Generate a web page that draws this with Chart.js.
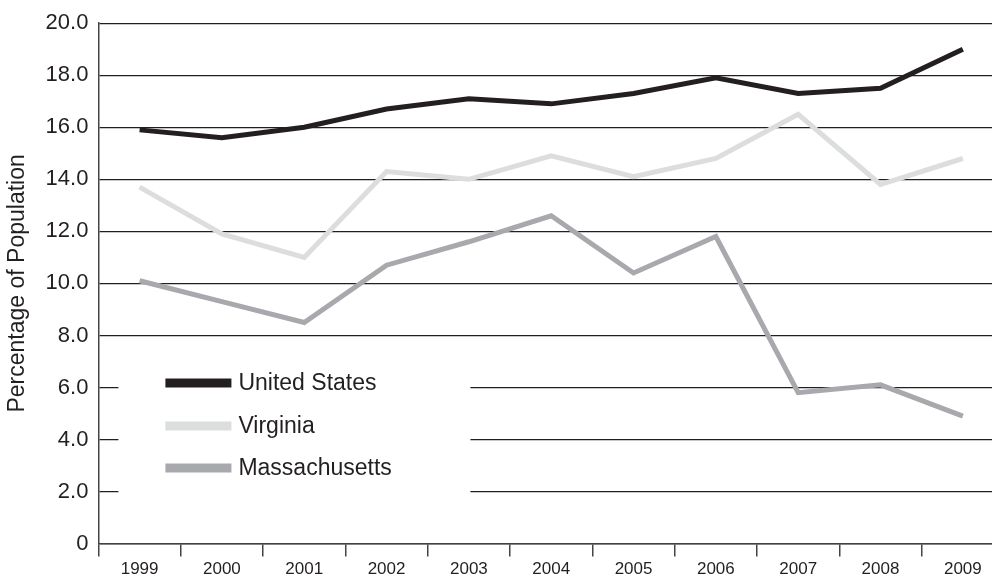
<!DOCTYPE html>
<html lang="en">
    <head>
        <meta charset="UTF-8" />
        <title>Percentage of Population</title>
        <script src="https://cdn.jsdelivr.net/npm/chart.js"></script>
        <style>
            html, body { margin: 0; padding: 0; overflow: hidden; background: #fff; }
            #wrap { width: 1004px; height: 583px; position: relative; }
        </style>
    </head>
    <body>
        <div id="wrap"><canvas id="myChart"></canvas></div>

        <script>
            const years = ["1999", "2000", "2001", "2002", "2003", "2004", "2005", "2006", "2007", "2008", "2009"];
            const unitedStates = [15.9, 15.6, 16.0, 16.7, 17.1, 16.9, 17.3, 17.9, 17.3, 17.5, 19.0];
            const virginia = [13.7, 11.9, 11.0, 14.3, 14.0, 14.9, 14.1, 14.8, 16.5, 13.8, 14.8];
            const massachusetts = [10.1, 9.3, 8.5, 10.7, 11.6, 12.6, 10.4, 11.8, 5.8, 6.1, 4.9];

            const font = "'Liberation Sans', Arial, sans-serif";
            const ink = "#231f20";

            // legend drawn inside the plot, on a white box that hides the grid
            const insideLegend = {
                id: "insideLegend",
                beforeDatasetsDraw(chart) {
                    const { ctx, chartArea } = chart;
                    const y = chart.scales.y;
                    ctx.save();
                    ctx.fillStyle = "#fff";
                    const top = y.getPixelForValue(7.2);
                    const bottom = y.getPixelForValue(1.2);
                    ctx.fillRect(chartArea.left + 20, top, 352, bottom - top);
                    ctx.restore();
                },
                afterDatasetsDraw(chart) {
                    const { ctx, chartArea } = chart;
                    const x0 = chartArea.left + 67;
                    const rowY = [383, 426, 468];
                    ctx.save();
                    ctx.font = "23px " + font;
                    ctx.textBaseline = "middle";
                    chart.data.datasets.forEach((ds, i) => {
                        ctx.fillStyle = ds.borderColor;
                        ctx.fillRect(x0, rowY[i] - 4.5, 66, 9);
                        ctx.fillStyle = ink;
                        ctx.fillText(ds.label, x0 + 73, rowY[i] + 1);
                    });
                    ctx.restore();
                },
            };

            const data = {
                labels: years,
                datasets: [
                    { label: "United States", data: unitedStates, borderColor: "#231f20" },
                    { label: "Virginia", data: virginia, borderColor: "#dcdddd" },
                    { label: "Massachusetts", data: massachusetts, borderColor: "#a7a9ac" },
                ],
            };

            const config = {
                type: "line",
                data: data,
                plugins: [insideLegend],
                options: {
                    responsive: true,
                    maintainAspectRatio: false,
                    animation: false,
                    layout: { padding: { top: 8.7, right: 0, left: 0, bottom: 0 } },
                    elements: {
                        line: { borderWidth: 5, tension: 0, borderJoinStyle: "miter", borderCapStyle: "butt" },
                        point: { radius: 0, hoverRadius: 0 },
                    },
                    plugins: {
                        legend: { display: false },
                        tooltip: { enabled: false },
                    },
                    scales: {
                        x: {
                            offset: true,
                            grid: {
                                offset: true,
                                drawOnChartArea: false,
                                drawTicks: true,
                                tickLength: 13,
                                color: "#444",
                                lineWidth: 1.5,
                            },
                            border: { color: "#444", width: 1.5 },
                            ticks: {
                                color: ink,
                                font: { family: font, size: 17 },
                                padding: 3,
                                maxRotation: 0,
                            },
                        },
                        y: {
                            min: 0,
                            max: 20,
                            grid: {
                                drawTicks: false,
                                color: ink,
                                lineWidth: 1.2,
                            },
                            border: { color: "#444", width: 1.5 },
                            ticks: {
                                stepSize: 2,
                                color: ink,
                                padding: 10,
                                font: { family: font, size: 22 },
                                callback: (v) => (v === 0 ? "0" : v.toFixed(1)),
                            },
                            title: {
                                display: true,
                                text: "Percentage of Population",
                                color: ink,
                                font: { family: font, size: 23 },
                                padding: { top: 4, bottom: 4 },
                            },
                        },
                    },
                },
            };

            document.addEventListener("DOMContentLoaded", function () {
                const ctx = document.getElementById("myChart").getContext("2d");
                new Chart(ctx, config);
            });
        </script>
    </body>
</html>
